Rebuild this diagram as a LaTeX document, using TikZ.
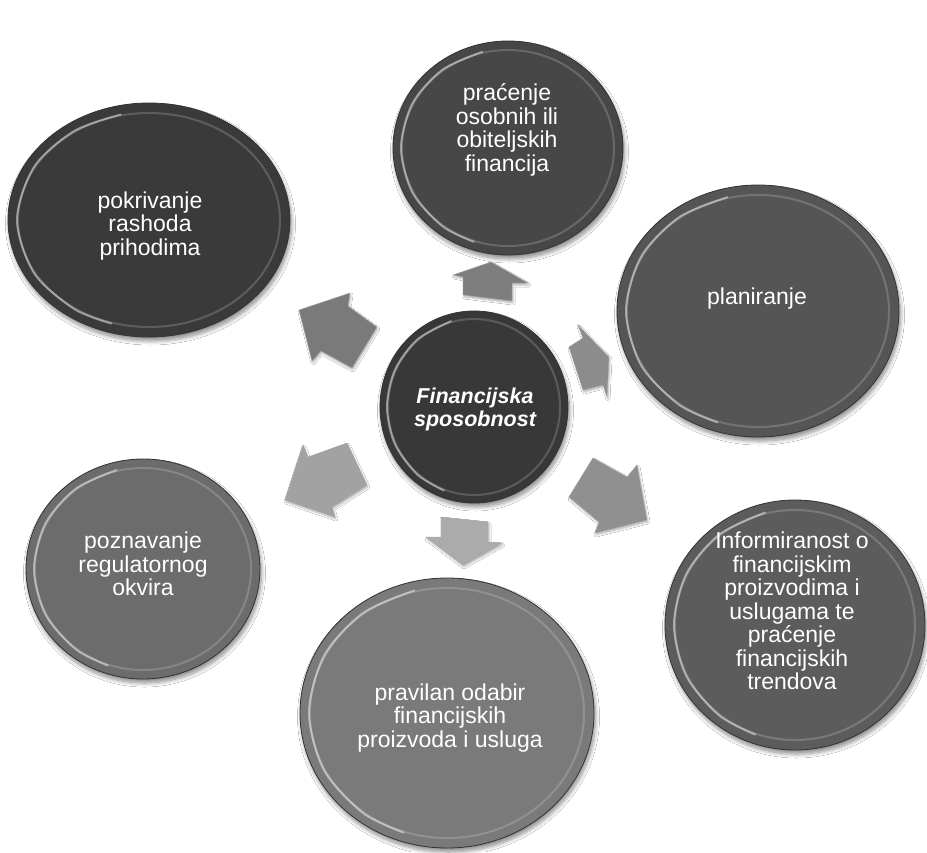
\documentclass[tikz,border=0pt]{standalone}
\usepackage{fontspec}
\setmainfont{Liberation Sans}
\usetikzlibrary{shapes.geometric,shadows.blur}
\definecolor{cPok}{HTML}{3A3A3A}
\definecolor{cCen}{HTML}{383838}
\definecolor{cPra}{HTML}{474747}
\definecolor{cPla}{HTML}{555555}
\definecolor{cInf}{HTML}{5C5C5C}
\definecolor{cPrv}{HTML}{7A7A7A}
\definecolor{cPoz}{HTML}{6C6C6C}
\definecolor{aUp}{HTML}{7E7E7E}
\definecolor{aUL}{HTML}{7A7A7A}
\definecolor{aUR}{HTML}{8C8C8C}
\definecolor{aLR}{HTML}{909090}
\definecolor{aDn}{HTML}{ABABAB}
\definecolor{aLL}{HTML}{A2A2A2}
\tikzset{
  bubble/.style={ellipse, inner sep=0pt, draw=black!80, line width=0.8pt,
    blur shadow={shadow xshift=1.5pt, shadow yshift=-4pt, shadow blur steps=8,
      shadow opacity=45, shadow blur radius=4pt}},
  bubblering/.style={ellipse, inner sep=0pt, draw=white, draw opacity=0.18, line width=2pt},
  bevelarc/.style={draw=white, draw opacity=0.45, line width=2pt, line cap=round},
  txtstyle/.style={text=white, align=center, inner sep=0pt, font=\fontsize{23}{23.5}\selectfont},
  blockarrow/.style={draw=black!35, line width=0.4pt, line join=miter,
    blur shadow={shadow xshift=1pt, shadow yshift=-2pt, shadow blur steps=5,
      shadow opacity=30, shadow blur radius=2pt}},
}
\begin{document}
\begin{tikzpicture}[x=1pt,y=-1pt]
\useasboundingbox (0,0) rectangle (927,852);
\fill[white] (0,0) rectangle (927,852);

% ---------- bubbles ----------
\node[bubble, fill=cPok, minimum width=282pt, minimum height=234pt] (pok) at (149,220) {};
\node[bubble, fill=cPra, minimum width=230pt, minimum height=214pt] (pra) at (508,148) {};
\node[bubble, fill=cPla, minimum width=282pt, minimum height=252pt] (pla) at (758,311) {};
\node[bubble, fill=cInf, minimum width=260pt, minimum height=250pt] (inf) at (795,625) {};
\node[bubble, fill=cPrv, minimum width=294pt, minimum height=270pt] (prv) at (447,713) {};
\node[bubble, fill=cPoz, minimum width=234pt, minimum height=220pt] (poz) at (143,569) {};
\node[bubble, fill=cCen, minimum width=188pt, minimum height=192pt] (cen) at (474,407) {};

% ---------- bevel rings ----------
\node[bubblering, minimum width=262pt, minimum height=214pt] (pokr) at (149,220) {};
\node[bubblering, minimum width=212pt, minimum height=196pt] (prar) at (508,148) {};
\node[bubblering, minimum width=262pt, minimum height=232pt] (plar) at (758,311) {};
\node[bubblering, minimum width=240pt, minimum height=230pt] (infr) at (795,625) {};
\node[bubblering, minimum width=274pt, minimum height=250pt] (prvr) at (447,713) {};
\node[bubblering, minimum width=216pt, minimum height=202pt] (pozr) at (143,569) {};
\node[bubblering, minimum width=172pt, minimum height=176pt] (cenr) at (474,407) {};

\foreach \r in {pokr,prar,plar,infr,prvr,pozr,cenr}{
  \draw[bevelarc] plot[smooth] coordinates {(\r.105) (\r.130) (\r.155) (\r.180) (\r.205) (\r.230) (\r.250)};
}

% ---------- block arrows ----------
\draw[blockarrow, fill=aUp] (453,275) -- (491,262) -- (528,283) -- (512,283) -- (512,301) -- (463,295) -- (463,277) -- cycle;
\draw[blockarrow, fill=aUL] (299,310) -- (350,293) -- (348,306) -- (377,327) -- (352,368) -- (321,351) -- (312,361) -- cycle;
\draw[blockarrow, fill=aUR] (578,325) -- (583,338) -- (569,347) -- (583,390) -- (603,385) -- (607,397) -- (609,357) -- cycle;
\draw[blockarrow, fill=aLR] (593,458) -- (627,477) -- (637,465) -- (647,520) -- (595,533) -- (599,522) -- (569,497) -- cycle;
\draw[blockarrow, fill=aDn] (441,517) -- (488,522) -- (488,542) -- (502,543) -- (463,565) -- (426,537) -- (441,537) -- cycle;
\draw[blockarrow, fill=aLL] (303,445) -- (308,457) -- (347,443) -- (367,485) -- (332,507) -- (335,517) -- (285,500) -- cycle;

% ---------- texts ----------
\node[txtstyle] (pokt) at (150,226) {pokrivanje\\rashoda\\prihodima};
\node[txtstyle] (prat) at (507,130) {pra\'cenje\\osobnih ili\\obiteljskih\\financija};
\node[txtstyle] (plat) at (757,299) {planiranje};
\node[txtstyle] (inft) at (792,611) {Informiranost o\\financijskim\\proizvodima i\\uslugama te\\pra\'cenje\\financijskih\\trendova};
\node[txtstyle] (prvt) at (450,718) {pravilan odabir\\financijskih\\proizvoda i usluga};
\node[txtstyle] (pozt) at (143,564) {poznavanje\\regulatornog\\okvira};
\node[txtstyle, font=\fontsize{21.5}{23}\selectfont\bfseries\itshape] (cent) at (475,409) {Financijska\\sposobnost};
\end{tikzpicture}
\end{document}
